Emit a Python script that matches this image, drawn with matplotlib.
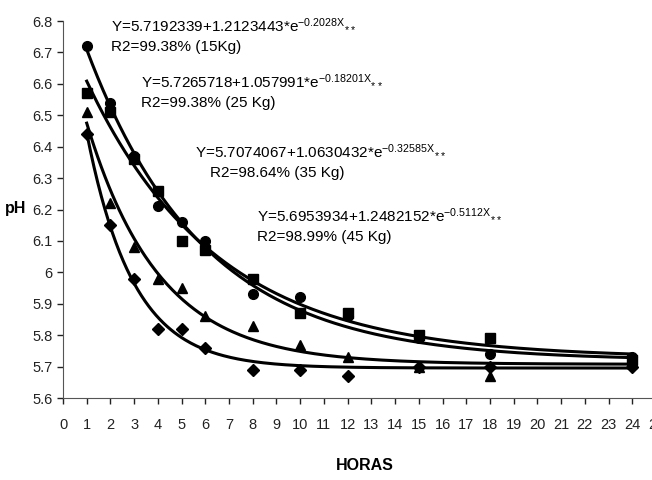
import numpy as np
import matplotlib.pyplot as plt

plt.rcParams['font.family'] = ['Liberation Sans', 'DejaVu Sans']
plt.rcParams['mathtext.default'] = 'regular'

# dados
horas = [1, 2, 3, 4, 5, 6, 8, 10, 12, 15, 18, 24]
ph_15 = [6.72, 6.54, 6.37, 6.21, 6.16, 6.10, 5.93, 5.92, 5.86, 5.79, 5.74, 5.73]
ph_25 = [6.57, 6.51, 6.36, 6.26, 6.10, 6.07, 5.98, 5.87, 5.87, 5.80, 5.79, 5.72]
ph_35 = [6.51, 6.22, 6.08, 5.98, 5.95, 5.86, 5.83, 5.77, 5.73, 5.70, 5.67, 5.71]
ph_45 = [6.44, 6.15, 5.98, 5.82, 5.82, 5.76, 5.69, 5.69, 5.67, 5.70, 5.70, 5.70]

# parametros das curvas ajustadas Y = a + b*e^(-cX)
a = [5.7192339, 5.7265718, 5.7074067, 5.6953934]
b = [1.2123443, 1.057991, 1.0630432, 1.2482152]
c = [0.2028, 0.18201, 0.32585, 0.5112]

eqs = [r'Y=5.7192339+1.2123443*e$^{-0.2028X}$$_{**}$',
       r'Y=5.7265718+1.057991*e$^{-0.18201X}$$_{**}$',
       r'Y=5.7074067+1.0630432*e$^{-0.32585X}$$_{**}$',
       r'Y=5.6953934+1.2482152*e$^{-0.5112X}$$_{**}$']
r2 = ['R2=99.38% (15Kg)', 'R2=99.38% (25 Kg)', 'R2=98.64% (35 Kg)', 'R2=98.99% (45 Kg)']

fig = plt.figure(figsize=(6.52, 4.8), dpi=100)
ax = fig.add_axes([63/652, 82/480, 593/652, 377/480])

xs = np.linspace(1, 24, 300)
for i in range(4):
    ax.plot(xs, a[i] + b[i] * np.exp(-c[i] * xs), color='black', lw=2.2)

ax.plot(horas, ph_15, 'o', color='black', ms=7)
ax.plot(horas, ph_25, 's', color='black', ms=6.5)
ax.plot(horas, ph_35, '^', color='black', ms=7)
ax.plot(horas, ph_45, 'D', color='black', ms=6)

ax.set_xlim(0, 25)
ax.set_ylim(5.6, 6.8)
ax.set_xticks(range(0, 26))
ax.set_yticks(np.arange(5.6, 6.81, 0.1))
ax.set_yticklabels(['5.6', '5.7', '5.8', '5.9', '6', '6.1', '6.2', '6.3',
                    '6.4', '6.5', '6.6', '6.7', '6.8'])
ax.tick_params(labelsize=10.5, length=4.5, width=1, colors='#222222')
ax.tick_params(axis='x', pad=10)
ax.tick_params(axis='y', pad=3)
ax.spines['top'].set_visible(False)
ax.spines['right'].set_visible(False)
ax.spines['left'].set_color('#555555')
ax.spines['bottom'].set_color('#555555')

# textos das equacoes
fs = 11
fig.text(111/652, 1 - 30/480, eqs[0], fontsize=fs, va='baseline')
fig.text(111/652, 1 - 51/480, r2[0], fontsize=fs, va='baseline')
fig.text(141/652, 1 - 86/480, eqs[1], fontsize=fs, va='baseline')
fig.text(141/652, 1 - 107/480, r2[1], fontsize=fs, va='baseline')
fig.text(195/652, 1 - 156/480, eqs[2], fontsize=fs, va='baseline')
fig.text(210/652, 1 - 177/480, r2[2], fontsize=fs, va='baseline')
fig.text(257/652, 1 - 220/480, eqs[3], fontsize=fs, va='baseline')
fig.text(257/652, 1 - 241/480, r2[3], fontsize=fs, va='baseline')

fig.text(5/652, 1 - 208/480, 'pH', fontsize=11.5, fontweight='bold', va='center')
fig.text(365/652, 1 - 465/480, 'HORAS', fontsize=11.5, fontweight='bold', ha='center', va='center')

fig.savefig('out.png', dpi=100)
